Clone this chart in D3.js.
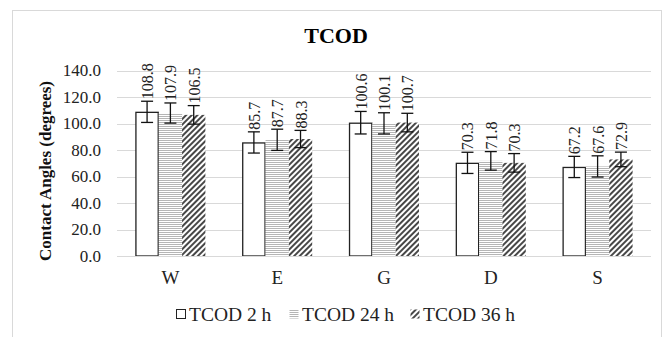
<!DOCTYPE html>
<html>
<head>
<meta charset="utf-8">
<script src="https://cdn.jsdelivr.net/npm/d3@7"></script>
<style>
  body { margin: 0; background: #fff; }
  svg text { font-family: "Liberation Serif", "Times New Roman", Times, serif; }
</style>
</head>
<body>
<div id="chart"></div>
<script>
const categories = ['W', 'E', 'G', 'D', 'S'];
const seriesNames = ['TCOD 2 h', 'TCOD 24 h', 'TCOD 36 h'];
const values2h = [108.8, 85.7, 100.6, 70.3, 67.2];
const values24h = [107.9, 87.7, 100.1, 71.8, 67.6];
const values36h = [106.5, 88.3, 100.7, 70.3, 72.9];
const errors2h = [8, 8, 8.5, 8, 8];
const errors24h = [7.6, 8, 8, 7, 8];
const errors36h = [7, 6.5, 7, 7, 5.5];
const yTicks = [0, 20, 40, 60, 80, 100, 120, 140];

const w = 671;
const h = 337;
const font = '"Liberation Serif", serif';

const svg = d3.select('#chart')
  .append('svg')
    .attr('width', w)
    .attr('height', h);

const defs = svg.append('defs');

const hPat = defs.append('pattern')
  .attr('id', 'hlines')
  .attr('patternUnits', 'userSpaceOnUse')
  .attr('width', 4)
  .attr('height', 2);
hPat.append('rect').attr('width', 4).attr('height', 2).attr('fill', '#fff');
hPat.append('rect').attr('width', 4).attr('height', 1).attr('fill', '#b5b5b5');

const dPat = defs.append('pattern')
  .attr('id', 'dlines')
  .attr('patternUnits', 'userSpaceOnUse')
  .attr('width', 4)
  .attr('height', 4)
  .attr('patternTransform', 'rotate(45)');
dPat.append('rect').attr('width', 4).attr('height', 4).attr('fill', '#fff');
dPat.append('line')
  .attr('x1', 1).attr('y1', 0).attr('x2', 1).attr('y2', 4)
  .attr('stroke', '#333').attr('stroke-width', 1.8);

// outer frame
svg.append('rect')
  .attr('x', 12.5).attr('y', 10.5)
  .attr('width', 649).attr('height', 360)
  .attr('fill', 'none')
  .attr('stroke', '#d9d9d9');

const x0 = d3.scaleBand()
  .domain(categories)
  .range([117, 651])
  .paddingInner(0.345)
  .paddingOuter(0.1725);

const x1 = d3.scaleBand()
  .domain(seriesNames)
  .range([0, x0.bandwidth()]);

const y = d3.scaleLinear()
  .domain([0, 140])
  .range([256, 70.5]);

// gridlines
svg.append('g')
  .selectAll('line')
  .data(yTicks)
  .enter()
  .append('line')
    .attr('x1', 117)
    .attr('x2', 651)
    .attr('y1', d => Math.round(y(d)) + 0.5)
    .attr('y2', d => Math.round(y(d)) + 0.5)
    .attr('stroke', '#d9d9d9');

// y tick labels
const yAxis = d3.axisLeft(y)
  .tickValues(yTicks)
  .tickFormat(d3.format('.1f'))
  .tickSize(0)
  .tickPadding(16);

const yg = svg.append('g')
  .attr('transform', 'translate(117,0)')
  .call(yAxis)
  .attr('font-family', font);
yg.select('.domain').remove();
yg.selectAll('text')
  .attr('font-size', 17)
  .attr('fill', '#222');

// x labels
const xAxis = d3.axisBottom(x0).tickSize(0).tickPadding(15);
const xg = svg.append('g')
  .attr('transform', 'translate(0,256)')
  .call(xAxis)
  .attr('font-family', font);
xg.select('.domain').remove();
xg.selectAll('text')
  .attr('font-size', 19)
  .attr('fill', '#222');

const series = [
  { name: seriesNames[0], values: values2h, errors: errors2h, fill: '#fff', stroke: '#222' },
  { name: seriesNames[1], values: values24h, errors: errors24h, fill: 'url(#hlines)', stroke: 'none' },
  { name: seriesNames[2], values: values36h, errors: errors36h, fill: 'url(#dlines)', stroke: 'none' },
];

const rows = [];
series.forEach(s => {
  categories.forEach((c, i) => {
    rows.push({ cat: c, name: s.name, v: s.values[i], e: s.errors[i], fill: s.fill, stroke: s.stroke });
  });
});

const bx = d => x0(d.cat) + x1(d.name);
const cx = d => bx(d) + x1.bandwidth() / 2;

svg.append('g')
  .selectAll('rect')
  .data(rows)
  .enter()
  .append('rect')
    .attr('x', d => bx(d) + (d.stroke === 'none' ? 0 : 0.5))
    .attr('y', d => y(d.v) + (d.stroke === 'none' ? 0 : 0.5))
    .attr('width', d => x1.bandwidth() - (d.stroke === 'none' ? 0 : 1))
    .attr('height', d => y(0) - y(d.v) - (d.stroke === 'none' ? 0 : 0.5))
    .attr('fill', d => d.fill)
    .attr('stroke', d => d.stroke)
    .attr('stroke-width', 1.3);

// axis baseline
svg.append('line')
  .attr('x1', 117).attr('x2', 651)
  .attr('y1', 256.5).attr('y2', 256.5)
  .attr('stroke', '#d9d9d9');

// error bars
const eg = svg.append('g')
  .attr('stroke', '#111')
  .attr('stroke-width', 1.3);

eg.selectAll('.stem')
  .data(rows)
  .enter()
  .append('line')
    .attr('class', 'stem')
    .attr('x1', d => cx(d)).attr('x2', d => cx(d))
    .attr('y1', d => y(d.v + d.e)).attr('y2', d => y(d.v - d.e));

eg.selectAll('.capTop')
  .data(rows)
  .enter()
  .append('line')
    .attr('class', 'capTop')
    .attr('x1', d => cx(d) - 6).attr('x2', d => cx(d) + 6)
    .attr('y1', d => y(d.v + d.e)).attr('y2', d => y(d.v + d.e));

eg.selectAll('.capBot')
  .data(rows)
  .enter()
  .append('line')
    .attr('class', 'capBot')
    .attr('x1', d => cx(d) - 6).attr('x2', d => cx(d) + 6)
    .attr('y1', d => y(d.v - d.e)).attr('y2', d => y(d.v - d.e));

// value labels (rotated)
svg.append('g')
  .attr('font-family', font)
  .selectAll('text')
  .data(rows)
  .enter()
  .append('text')
    .attr('transform', d => `translate(${cx(d) + 6}, ${y(d.v + d.e) - 2}) rotate(-90)`)
    .attr('font-size', 16)
    .attr('fill', '#222')
    .text(d => d.v.toFixed(1));

// title
svg.append('text')
  .attr('x', 336)
  .attr('y', 43)
  .attr('text-anchor', 'middle')
  .attr('font-family', font)
  .attr('font-size', 22)
  .attr('font-weight', 'bold')
  .attr('fill', '#000')
  .text('TCOD');

// y axis title
svg.append('text')
  .attr('transform', 'translate(51,171) rotate(-90)')
  .attr('text-anchor', 'middle')
  .attr('font-family', font)
  .attr('font-size', 17)
  .attr('font-weight', 'bold')
  .attr('fill', '#111')
  .text('Contact Angles (degrees)');

// legend
const legendX = [176, 289, 410];
const lg = svg.append('g')
  .attr('font-family', font)
  .selectAll('g')
  .data(series)
  .enter()
  .append('g')
    .attr('transform', (d, i) => `translate(${legendX[i]}, 314)`);

lg.append('rect')
  .attr('x', 0.5).attr('y', -4.5)
  .attr('width', 9).attr('height', 9)
  .attr('fill', d => d.fill)
  .attr('stroke', d => d.stroke === 'none' ? 'none' : '#222');

lg.append('text')
  .attr('x', 13)
  .attr('y', 7)
  .attr('font-size', 19.5)
  .attr('fill', '#222')
  .text(d => d.name);
</script>
</body>
</html>
